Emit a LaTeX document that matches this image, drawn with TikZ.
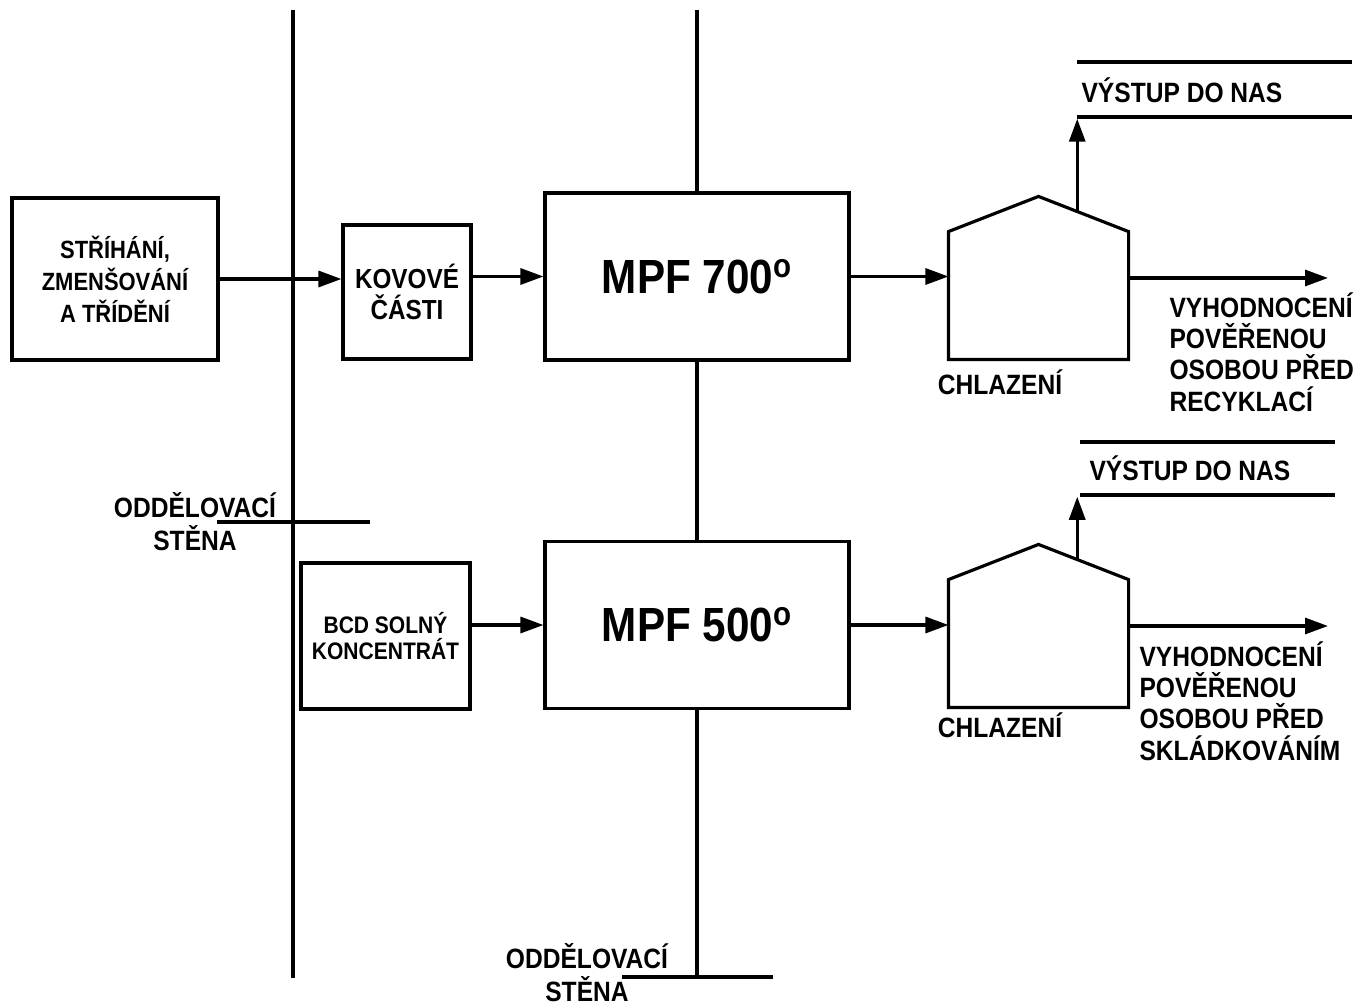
\documentclass[tikz,border=0pt]{standalone}
\usepackage{fontspec}
\setmainfont{Liberation Sans}[FakeStretch=0.88]
\usetikzlibrary{positioning, arrows.meta, calc}

\begin{document}
\begin{tikzpicture}[
    x=0.02cm, y=-0.02cm,
    line width=1.8pt,
    every node/.style={font=\bfseries\fontsize{15.9}{18}\selectfont, inner sep=0pt},
    box/.style={draw, fill=white, align=center},
    cooler/.style={minimum width=3.54cm, minimum height=3.2cm},
    arr/.style={-{Triangle[length=0.46cm, width=0.32cm]}},
    txt/.style={align=left, anchor=west, font=\bfseries\fontsize{15.9}{17.9}\selectfont},
    wallname/.style={align=center, font=\bfseries\fontsize{15.9}{18.8}\selectfont}
]
\useasboundingbox (0,0) rectangle (1358,1006);

% walls
\coordinate (wallAtop) at (293,10);
\coordinate (wallAbot) at (293,978);
\coordinate (wallBtop) at (697,10);
\coordinate (wallBbot) at (697,977);
\draw (wallAtop) -- (wallAbot);

% process boxes
\node[box, minimum width=4.12cm, minimum height=3.24cm, font=\bfseries\fontsize{14.2}{18.2}\selectfont] (shred) at (115,279) {STŘÍHÁNÍ,\\ZMENŠOVÁNÍ\\A TŘÍDĚNÍ};
\node[box, minimum width=2.56cm, minimum height=2.68cm, font=\bfseries\fontsize{15.7}{17.6}\selectfont] (metal) at (407,292) {KOVOVÉ\\ČÁSTI};
\node[box, minimum width=6.08cm, minimum height=3.34cm, font=\bfseries\fontsize{27.3}{30}\selectfont] (mpf7) at (697,276.5) {MPF 700\textsuperscript{o}};
\node[box, minimum width=6.08cm, minimum height=3.34cm, font=\bfseries\fontsize{27.3}{30}\selectfont] (mpf5) at (697,625) {MPF 500\textsuperscript{o}};
\node[box, minimum width=3.38cm, minimum height=2.92cm, font=\bfseries\fontsize{13.6}{14.8}\selectfont] (salt) at (385.5,636) {BCD SOLNÝ\\KONCENTRÁT};

\draw (wallBtop) -- (mpf7.north);
\draw (mpf7.south) -- (mpf5.north);
\draw (mpf5.south) -- (wallBbot);

% wall labels
\coordinate (sepAl) at (217,522);
\coordinate (sepAr) at (370,522);
\coordinate (sepBl) at (622,977);
\coordinate (sepBr) at (773,977);
\draw (sepAl) -- (sepAr);
\draw (sepBl) -- (sepBr);
\node[wallname] (sepA) at (195,521.5) {ODDĚLOVACÍ\\STĚNA};
\node[wallname] (sepB) at (587,973) {ODDĚLOVACÍ\\STĚNA};

% cooling
\node[cooler] (cool1) at (1038.5,278) {};
\node[cooler] (cool2) at (1038.5,626) {};
\draw (cool1.south west) -- ([yshift=2.56cm]cool1.south west) -- (cool1.north)
    -- ([yshift=2.56cm]cool1.south east) coordinate (cool1eave) -- (cool1.south east) -- cycle;
\draw (cool2.south west) -- ([yshift=2.56cm]cool2.south west) -- (cool2.north)
    -- ([yshift=2.56cm]cool2.south east) coordinate (cool2eave) -- (cool2.south east) -- cycle;
\node (cool1lbl) at (1000,382) {CHLAZENÍ};
\node (cool2lbl) at (1000,725) {CHLAZENÍ};

% outlets
\coordinate (nas1a) at (1077,62);
\coordinate (nas1b) at (1352,62);
\coordinate (nas1c) at (1077,117);
\coordinate (nas1d) at (1352,117);
\coordinate (nas2a) at (1080,442);
\coordinate (nas2b) at (1335,442);
\coordinate (nas2c) at (1080,495);
\coordinate (nas2d) at (1335,495);
\draw (nas1a) -- (nas1b);
\draw (nas1c) -- (nas1d);
\draw (nas2a) -- (nas2b);
\draw (nas2c) -- (nas2d);
\node[anchor=west] (nas1) at (1080,90) {VÝSTUP DO NAS};
\node[anchor=west] (nas2) at (1088,468) {VÝSTUP DO NAS};

\coordinate (roof1) at ($(cool1.north)!0.43!(cool1eave)$);
\coordinate (roof2) at ($(cool2.north)!0.43!(cool2eave)$);
\coordinate (end1) at (1328,278);
\coordinate (end2) at (1328,626);

\node[txt] (eval1) at (1168,352) {VYHODNOCENÍ\\POVĚŘENOU\\OSOBOU PŘED\\RECYKLACÍ};
\node[txt] (eval2) at (1138,701) {VYHODNOCENÍ\\POVĚŘENOU\\OSOBOU PŘED\\SKLÁDKOVÁNÍM};

% flows
\draw[arr] (shred.east) -- (shred.east -| metal.west);
\draw[arr] (metal.east |- mpf7.west) -- (mpf7.west);
\draw[arr] (mpf7.east) -- (mpf7.east -| cool1.west);
\draw[arr] (salt.east |- mpf5.west) -- (mpf5.west);
\draw[arr] (mpf5.east) -- (mpf5.east -| cool2.west);
\draw[arr] (cool1.east) -- (end1);
\draw[arr] (cool2.east) -- (end2);
\draw[arr, shorten >=1pt] (roof1) -- (roof1 |- nas1c);
\draw[arr, shorten >=1pt] (roof2) -- (roof2 |- nas2c);

\end{tikzpicture}
\end{document}
